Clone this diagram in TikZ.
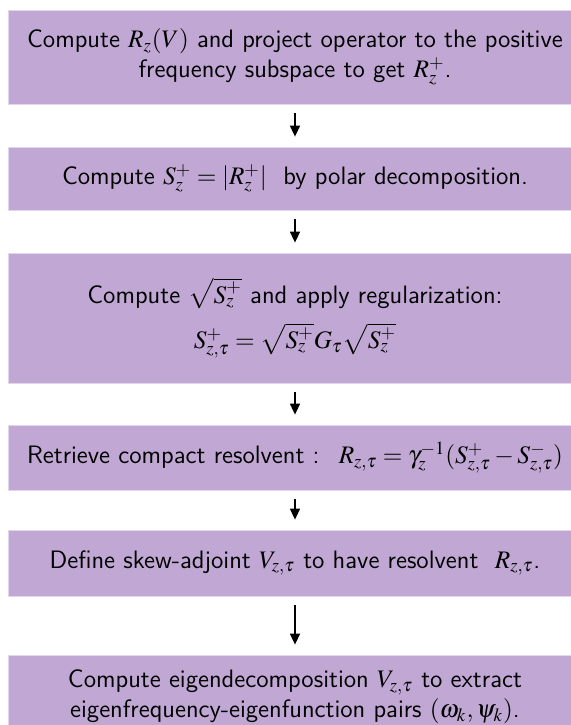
\documentclass[tikz,border=0pt]{standalone}
\usepackage{mathptmx}
\usetikzlibrary{arrows.meta}
\definecolor{boxfill}{RGB}{193,168,212}
\definecolor{boxedge}{RGB}{226,214,236}
\tikzset{
  stepbox/.style={rectangle, fill=boxfill, draw=boxedge, line width=0.4pt,
    minimum width=287pt, inner sep=0pt, align=center,
    font=\sffamily\fontsize{12.6}{15}\selectfont},
  flowarrow/.style={-{Triangle[length=5.5pt,width=5pt]}, line width=0.8pt,
    shorten <=4.5pt, shorten >=5pt}
}
\begin{document}
\begin{tikzpicture}[x=0.5pt,y=-0.5pt]
\useasboundingbox (0,0) rectangle (571,725);
\node[stepbox, minimum height=47pt] (b1) at (295,57)
  {Compute $R_z(V)$ and project operator to the positive\\
   frequency subspace to get $R_z^+$.};
\node[stepbox, minimum height=31.5pt] (b2) at (295,178.5)
  {Compute $S_z^+ = |R_z^+|$ \ by polar decomposition.};
\node[stepbox, minimum height=65pt] (b3) at (295,318)
  {Compute $\sqrt{S_z^+}$ and apply regularization:\\[6pt]
   $S_{z,\tau}^+ = \sqrt{S_z^+}G_\tau\sqrt{S_z^+}$};
\node[stepbox, minimum height=32.5pt] (b4) at (295,457.5)
  {Retrieve compact resolvent : \ $R_{z,\tau} = \gamma_z^{-1}(S_{z,\tau}^+ - S_{z,\tau}^-)$};
\node[stepbox, minimum height=33pt] (b5) at (295,563)
  {Define skew-adjoint $V_{z,\tau}$ to have resolvent \ $R_{z,\tau}$.};
\node[stepbox, minimum height=42pt] (b6) at (295,697)
  {Compute eigendecomposition $V_{z,\tau}$ to extract\\
   eigenfrequency-eigenfunction pairs $(\omega_k,\psi_k)$.};
\draw[flowarrow] (b1) -- (b2);
\draw[flowarrow] (b2) -- (b3);
\draw[flowarrow] (b3) -- (b4);
\draw[flowarrow] (b4) -- (b5);
\draw[flowarrow] (b5) -- (b6);
\end{tikzpicture}
\end{document}
